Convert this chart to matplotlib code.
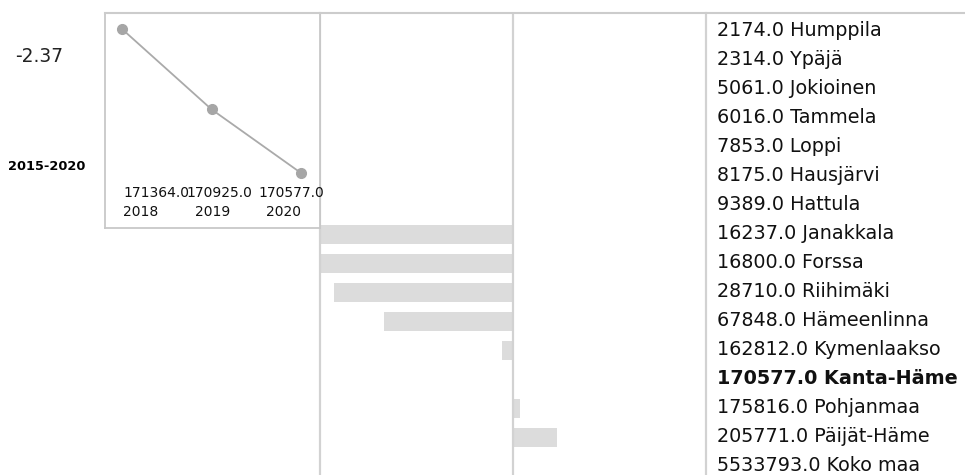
import matplotlib
matplotlib.use("Agg")
import matplotlib.pyplot as plt
from matplotlib.lines import Line2D
import matplotlib.transforms as mtransforms

# ---- data ----
names = ["Humppila", "Ypäjä", "Jokioinen", "Tammela", "Loppi", "Hausjärvi",
         "Hattula", "Janakkala", "Forssa", "Riihimäki", "Hämeenlinna",
         "Kymenlaakso", "Kanta-Häme", "Pohjanmaa", "Päijät-Häme", "Koko maa"]
populations = [2174.0, 2314.0, 5061.0, 6016.0, 7853.0, 8175.0, 9389.0,
               16237.0, 16800.0, 28710.0, 67848.0, 162812.0, 170577.0,
               175816.0, 205771.0, 5533793.0]
bar_values = [None, None, None, None, None, None, None,
              -1.0, -1.0, -0.927, -0.667, -0.055, None, 0.036, 0.23, None]
highlight = "Kanta-Häme"

years = ["2018", "2019", "2020"]
trend_values = [171364.0, 170925.0, 170577.0]
change_label = "-2.37"
period_label = "2015-2020"

W, H = 965, 475
fig = plt.figure(figsize=(W / 100, H / 100), dpi=100)
fig.patch.set_facecolor("white")

def fx(px):
    return px / W

def fy(py):
    return 1 - py / H

LINE_C = "#d2d2d2"
BAR_C = "#dcdcdc"

# ---- bar axes ----
ax = fig.add_axes([fx(320), 0, fx(706) - fx(320), fy(13)])
n = len(names)
for i, v in enumerate(bar_values):
    if v is None:
        continue
    ax.barh(i + 0.03, v, height=0.68, color=BAR_C, edgecolor="none", zorder=1)
ax.axvline(0, color=LINE_C, lw=1.6, zorder=2)
ax.set_xlim(-1, 1)
top_row = (13 - 30.5) / 29
bot_row = (475 - 30.5) / 29
ax.set_ylim(bot_row, top_row)
ax.set_xticks([])
ax.set_yticks([])
for s in ["top", "bottom"]:
    ax.spines[s].set_visible(False)
for s in ["left", "right"]:
    ax.spines[s].set_color(LINE_C)
    ax.spines[s].set_linewidth(1.6)

# right labels
trans = mtransforms.blended_transform_factory(fig.transFigure, ax.transData)
for i, (nm, pop) in enumerate(zip(names, populations)):
    ax.text(fx(717), i, f"{pop:.1f} {nm}", transform=trans, ha="left",
            va="center", fontsize=13.8, color="#111111",
            fontweight="bold" if nm == highlight else "normal", clip_on=False)

# top border line
fig.add_artist(Line2D([fx(105), fx(965)], [fy(12.5), fy(12.5)],
                      color="#cccccc", lw=1.5, transform=fig.transFigure))

# ---- inset trend axes ----
iax = fig.add_axes([fx(105), fy(228), fx(320) - fx(105), fy(13) - fy(228)])
xs = list(range(len(years)))
iax.plot(xs, trend_values, color="#aaaaaa", lw=1.3, marker="o",
         markersize=7, markerfacecolor="#a6a6a6", markeredgecolor="#a6a6a6")
px_per_x = 89.5
iax.set_xlim((105 - 122) / px_per_x, (320 - 122) / px_per_x)
per_px = (trend_values[0] - trend_values[2]) / (173 - 29)
iax.set_ylim(trend_values[0] - (228 - 29) * per_px,
             trend_values[0] + (29 - 13) * per_px)
iax.set_xticks([])
iax.set_yticks([])
for s in iax.spines.values():
    s.set_color("#c8c8c8")
    s.set_linewidth(1.3)

val_left = [123, 186, 258]
year_left = [123, 195, 266]
for i in range(len(years)):
    fig.text(fx(val_left[i]), fy(193), f"{trend_values[i]:.1f}", ha="left",
             va="center", fontsize=10, color="#111111")
    fig.text(fx(year_left[i]), fy(212), years[i], ha="left", va="center",
             fontsize=10, color="#111111")

# left labels
fig.text(fx(15), fy(57), change_label, ha="left", va="center",
         fontsize=13.4, color="#222222")
fig.text(fx(8), fy(167), period_label, ha="left", va="center",
         fontsize=9.3, fontweight="bold", color="#000000")

fig.savefig("out.png", dpi=100, facecolor="white")
